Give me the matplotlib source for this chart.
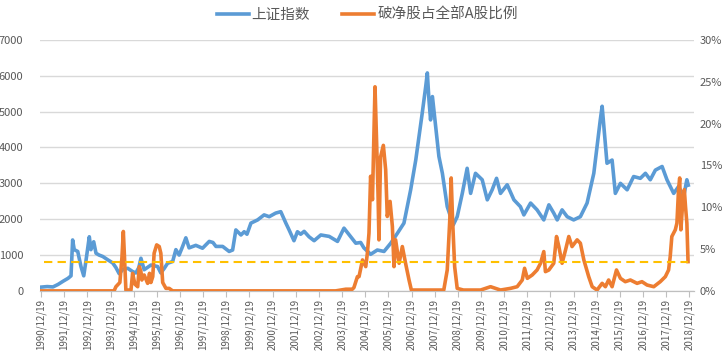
import matplotlib
matplotlib.use("Agg")
import matplotlib.pyplot as plt
import numpy as np

plt.rcParams['font.family'] = ['Noto Sans CJK SC', 'DejaVu Sans']

# 上证指数 (decimal year, index level)
sh_t = [1990.97, 1991.23, 1991.48, 1991.70, 1991.92, 1992.13, 1992.26, 1992.33, 1992.40, 1992.55,
        1992.69, 1992.81, 1992.91, 1993.05, 1993.12, 1993.24, 1993.34, 1993.47, 1993.63, 1993.84,
        1994.06, 1994.20, 1994.34, 1994.50, 1994.71, 1994.92, 1995.06, 1995.19, 1995.28, 1995.42,
        1995.71, 1996.00, 1996.14, 1996.29, 1996.43, 1996.65, 1996.79, 1996.93, 1997.08, 1997.22,
        1997.36, 1997.65, 1997.94, 1998.23, 1998.39, 1998.52, 1998.81, 1999.09, 1999.24, 1999.38,
        1999.60, 1999.74, 1999.86, 2000.03, 2000.32, 2000.60, 2000.82, 2001.10, 2001.32, 2001.54,
        2001.68, 2001.89, 2002.04, 2002.18, 2002.33, 2002.54, 2002.76, 2003.05, 2003.41, 2003.77,
        2004.05, 2004.27, 2004.56, 2004.77, 2004.91, 2005.20, 2005.49, 2005.78, 2006.07, 2006.36,
        2006.64, 2006.93, 2007.15, 2007.29, 2007.43, 2007.58, 2007.65, 2007.72, 2007.79, 2007.87,
        2008.01, 2008.15, 2008.30, 2008.51, 2008.77, 2008.94, 2009.16, 2009.37, 2009.52, 2009.73,
        2010.02, 2010.24, 2010.45, 2010.64, 2010.81, 2011.10, 2011.39, 2011.67, 2011.82, 2012.11,
        2012.39, 2012.68, 2012.90, 2013.11, 2013.26, 2013.47, 2013.69, 2013.97, 2014.26, 2014.55,
        2014.84, 2014.98, 2015.12, 2015.20, 2015.30, 2015.41, 2015.63, 2015.77, 2015.99, 2016.28,
        2016.56, 2016.85, 2017.07, 2017.28, 2017.50, 2017.79, 2018.00, 2018.29, 2018.50, 2018.72,
        2018.86, 2018.92]
sh_v = [105, 120, 110, 180, 270, 350, 420, 1420, 1150, 1100,
        680, 420, 860, 1510, 1150, 1370, 1050, 1000, 960, 870,
        780, 650, 480, 600, 630, 540, 500, 650, 910, 590,
        720, 680, 500, 630, 770, 820, 1150, 1000, 1240, 1480,
        1200, 1270, 1190, 1380, 1350, 1240, 1240, 1100, 1140, 1700,
        1560, 1650, 1580, 1890, 1980, 2120, 2070, 2170, 2210, 1890,
        1700, 1400, 1650, 1580, 1660, 1510, 1400, 1560, 1520, 1380,
        1750, 1570, 1330, 1350, 1200, 1020, 1140, 1100, 1330, 1610,
        1890, 2820, 3650, 4300, 4960, 5700, 6080, 5330, 4770, 5420,
        4580, 3750, 3280, 2350, 1840, 2070, 2720, 3420, 2720, 3280,
        3100, 2540, 2820, 3140, 2720, 2960, 2540, 2350, 2120, 2450,
        2260, 1980, 2400, 2170, 1980, 2260, 2070, 1980, 2070, 2450,
        3280, 4020, 4770, 5150, 4400, 3560, 3650, 2720, 3000, 2820,
        3190, 3140, 3280, 3100, 3370, 3470, 3100, 2720, 2910, 2630,
        3100, 2950]

# 破净股占全部A股比例 (decimal year, percent)
pb_t = [1990.97, 1994.12, 1994.20, 1994.37, 1994.46, 1994.52, 1994.57, 1994.63, 1994.85, 1994.92,
        1995.02, 1995.14, 1995.21, 1995.28, 1995.32, 1995.42, 1995.57, 1995.65, 1995.71, 1995.79,
        1995.85, 1995.96, 1996.07, 1996.14, 1996.22, 1996.36, 1996.50, 1996.65, 2003.69, 2004.13,
        2004.41, 2004.48, 2004.63, 2004.70, 2004.85, 2004.99, 2005.06, 2005.13, 2005.20, 2005.28,
        2005.35, 2005.39, 2005.46, 2005.52, 2005.56, 2005.63, 2005.75, 2005.85, 2005.92, 2006.04,
        2006.14, 2006.21, 2006.28, 2006.43, 2006.57, 2006.71, 2006.86, 2006.96, 2008.36, 2008.51,
        2008.62, 2008.68, 2008.74, 2008.83, 2008.94, 2009.21, 2009.95, 2010.38, 2010.81, 2011.24,
        2011.53, 2011.75, 2011.85, 2011.97, 2012.18, 2012.39, 2012.54, 2012.68, 2012.75, 2012.90,
        2013.11, 2013.23, 2013.33, 2013.47, 2013.62, 2013.76, 2013.90, 2014.12, 2014.26, 2014.41,
        2014.62, 2014.77, 2014.98, 2015.20, 2015.34, 2015.48, 2015.63, 2015.82, 2015.99, 2016.20,
        2016.42, 2016.71, 2016.92, 2017.14, 2017.43, 2017.71, 2017.93, 2018.07, 2018.14, 2018.21,
        2018.36, 2018.43, 2018.50, 2018.55, 2018.60, 2018.69, 2018.75, 2018.80, 2018.86, 2018.91]
pb_v = [0, 0, 0.5, 1.0, 4.0, 7.1, 4.0, 0.1, 0.1, 2.1,
        0.8, 0.5, 2.9, 2.3, 1.3, 1.9, 0.9, 2.1, 1.0, 1.7,
        4.5, 5.5, 5.3, 4.5, 1.0, 0.3, 0.3, 0, 0, 0.2,
        0.2, 0.4, 1.7, 1.7, 3.7, 2.9, 4.5, 6.9, 13.7, 10.9,
        19.6, 24.4, 17.7, 11.7, 6.1, 16.0, 17.4, 14.5, 8.9, 10.7,
        7.7, 2.9, 6.1, 3.3, 5.3, 3.3, 1.3, 0.1, 0.1, 2.5,
        8.5, 13.5, 8.5, 2.9, 0.3, 0.1, 0.1, 0.5, 0.1, 0.3,
        0.5, 1.3, 2.7, 1.5, 1.9, 2.5, 3.3, 4.7, 2.3, 2.5,
        3.3, 6.5, 5.3, 3.3, 4.9, 6.5, 5.3, 6.1, 5.7, 3.7,
        1.7, 0.5, 0.1, 0.9, 0.5, 1.3, 0.5, 2.5, 1.5, 1.1,
        1.3, 0.9, 1.1, 0.7, 0.5, 1.1, 1.7, 2.5, 4.1, 6.5,
        7.3, 8.1, 12.1, 13.5, 7.3, 10.9, 12.1, 10.1, 8.1, 3.5]

ref_level = 3.5  # dashed reference line, percent
years = list(range(1990, 2019))
tick_pos = [y + 0.967 for y in years]
tick_labels = [f"{y}/12/19" for y in years]

fig = plt.figure(figsize=(7.27, 3.6), dpi=100)
ax = fig.add_axes([0.055, 0.192, 0.90, 0.697])
ax2 = ax.twinx()

l1, = ax.plot(sh_t, sh_v, color='#5B9BD5', lw=2.6, label='上证指数', zorder=3)
l2, = ax2.plot(pb_t, pb_v, color='#ED7D31', lw=2.6, label='破净股占全部A股比例', zorder=3)
ax2.hlines(ref_level, 1991.1, 2018.92, colors='#FFC000', linestyles=(0, (4, 2.5)), lw=1.5, zorder=4)

ax.set_xlim(1990.92, 2019.18)
ax.set_ylim(0, 7000)
ax.set_yticks(np.arange(0, 7001, 1000))
ax2.set_ylim(0, 30)
ax2.set_yticks(np.arange(0, 31, 5))
ax2.set_yticklabels([f"{v}%" for v in range(0, 31, 5)])

ax.set_xticks(tick_pos)
ax.set_xticklabels(tick_labels, rotation=90, fontsize=7, color='#595959')
ax.tick_params(axis='x', length=4, color='#BFBFBF', pad=2)
ax.tick_params(axis='y', length=0, labelsize=8, colors='#595959', pad=12)
ax2.tick_params(axis='y', length=0, labelsize=8, colors='#595959', pad=4)

ax.grid(axis='y', color='#D9D9D9', lw=1)
ax.set_axisbelow(True)
for a in (ax, ax2):
    for s in ('top', 'left', 'right'):
        a.spines[s].set_visible(False)
    a.spines['bottom'].set_color('#BFBFBF')

fig.legend(handles=[l1, l2], loc='center', bbox_to_anchor=(0.505, 0.958), ncol=2,
           frameon=False, fontsize=10.5, handlelength=2.2, columnspacing=2.2,
           handletextpad=0.2, labelcolor='#595959')

fig.savefig('out.png', dpi=100)
